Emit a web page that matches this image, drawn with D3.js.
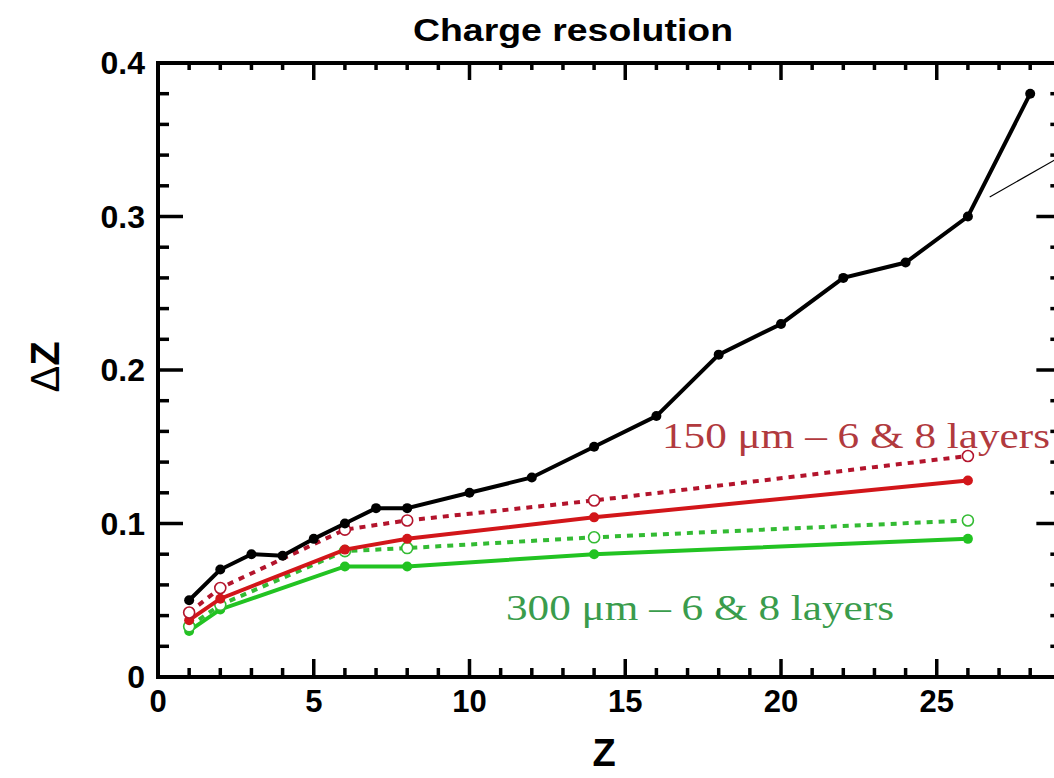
<!DOCTYPE html>
<html>
<head>
<meta charset="utf-8">
<script src="https://cdn.jsdelivr.net/npm/d3@7"></script>
<style>
  body { margin: 0; background: #fff; }
  svg { display: block; }
</style>
</head>
<body>
<div id="chart"></div>
<script>
// data
var zAll = [1, 2, 3, 4, 5, 6, 7, 8, 10, 12, 14, 16, 18, 20, 22, 24, 26, 28];
var dzAll = [0.050, 0.070, 0.080, 0.079, 0.090, 0.100, 0.110, 0.110, 0.120, 0.130, 0.150, 0.170, 0.210, 0.230, 0.260, 0.270, 0.300, 0.380];

var zSub = [1, 2, 6, 8, 14, 26];
var red8 = [0.042, 0.058, 0.096, 0.102, 0.115, 0.144];   // dotted, open
var red6 = [0.037, 0.051, 0.083, 0.090, 0.104, 0.128];   // solid, filled
var green8 = [0.033, 0.047, 0.082, 0.084, 0.091, 0.102];
var green6 = [0.030, 0.044, 0.072, 0.072, 0.080, 0.090];

var xTicks = [0, 5, 10, 15, 20, 25];
var yTicks = [0, 0.1, 0.2, 0.3, 0.4];
var yTickLabels = ["0", "0.1", "0.2", "0.3", "0.4"];

var title = "Charge resolution";
var redLabel = "150 \u03bcm \u2013 6 & 8 layers";
var greenLabel = "300 \u03bcm \u2013 6 & 8 layers";

function init() {
  var w = 1054;
  var h = 778;

  var x = d3.scaleLinear().domain([0, 29]).range([158, 158 + 29 * 31.15]);
  var y = d3.scaleLinear().domain([0, 0.4]).range([677, 63]);

  var svg = d3.select("#chart")
      .append("svg")
      .attr("width", w)
      .attr("height", h);

  // title
  svg.append("text")
      .attr("x", 413)
      .attr("y", 41)
      .attr("textLength", 320)
      .attr("lengthAdjust", "spacingAndGlyphs")
      .style("font-family", "Liberation Sans, Arial, sans-serif")
      .style("font-weight", "bold")
      .style("font-size", "31px")
      .text(title);

  var axisFont = "Liberation Sans, Arial, sans-serif";

  var xMinor = d3.range(1, 29, 1).filter(function(d) { return d % 5 != 0; });
  var yMinor = d3.range(1, 20, 1).filter(function(d) { return d % 5 != 0; })
      .map(function(d) { return d * 0.02; });

  var tickG = svg.append("g").attr("stroke", "#000").attr("stroke-width", 3.5);

  // vertical ticks (bottom and top), inward
  function xTickLines(vals, len, yBase, dir) {
    tickG.selectAll(null)
      .data(vals)
      .enter()
      .append("line")
      .attr("x1", function(d) { return x(d); })
      .attr("x2", function(d) { return x(d); })
      .attr("y1", yBase)
      .attr("y2", yBase + dir * len);
  }
  function yTickLines(vals, len, xBase, dir) {
    tickG.selectAll(null)
      .data(vals)
      .enter()
      .append("line")
      .attr("y1", function(d) { return y(d); })
      .attr("y2", function(d) { return y(d); })
      .attr("x1", xBase)
      .attr("x2", xBase + dir * len);
  }
  xTickLines(xMinor, 9, y(0), -1);
  xTickLines(xTicks, 18, y(0), -1);
  xTickLines(xMinor, 7, y(0.4), 1);
  xTickLines(xTicks, 17, y(0.4), 1);
  yTickLines(yMinor, 11, x(0), 1);
  yTickLines(yTicks, 25, x(0), 1);
  yTickLines(yMinor, 11, x(29), -1);
  yTickLines(yTicks, 25, x(29), -1);

  // frame
  svg.append("rect")
      .attr("x", x(0))
      .attr("y", y(0.4))
      .attr("width", x(29) - x(0))
      .attr("height", y(0) - y(0.4))
      .attr("fill", "none")
      .attr("stroke", "#000")
      .attr("stroke-width", 4);

  // tick labels
  svg.selectAll(".xlab")
    .data(xTicks)
    .enter()
    .append("text")
    .attr("x", function(d) { return x(d); })
    .attr("y", 712)
    .attr("text-anchor", "middle")
    .style("font-family", axisFont)
    .style("font-weight", "bold")
    .style("font-size", "31px")
    .text(function(d) { return d; });

  svg.selectAll(".ylab")
    .data(yTicks)
    .enter()
    .append("text")
    .attr("x", 145)
    .attr("y", function(d) { return y(d) + 11; })
    .attr("text-anchor", "end")
    .style("font-family", axisFont)
    .style("font-weight", "bold")
    .style("font-size", "32px")
    .text(function(d, i) { return yTickLabels[i]; });

  // axis titles
  svg.append("text")
      .attr("x", 604)
      .attr("y", 766)
      .attr("text-anchor", "middle")
      .style("font-family", axisFont)
      .style("font-weight", "bold")
      .style("font-size", "38px")
      .text("Z");

  var yt = svg.append("text")
      .attr("transform", "translate(59,367) rotate(-90)")
      .attr("text-anchor", "middle")
      .style("font-family", axisFont)
      .style("font-size", "40px");
  yt.append("tspan").style("font-weight", "normal").text("\u0394");
  yt.append("tspan").style("font-weight", "bold").text("Z");

  var line = d3.line()
      .x(function(d) { return x(d[0]); })
      .y(function(d) { return y(d[1]); });

  function series(xs, ys, color, dashed, open) {
    var pts = xs.map(function(v, i) { return [v, ys[i]]; });
    svg.append("path")
        .datum(pts)
        .attr("fill", "none")
        .attr("stroke", color)
        .attr("stroke-width", 4)
        .attr("stroke-dasharray", dashed ? "6,6" : null)
        .attr("d", line);
    svg.selectAll(null)
        .data(pts)
        .enter()
        .append("circle")
        .attr("cx", function(d) { return x(d[0]); })
        .attr("cy", function(d) { return y(d[1]); })
        .attr("r", open ? 5.5 : 5)
        .attr("fill", open ? "#fff" : color)
        .attr("stroke", color)
        .attr("stroke-width", open ? 1.6 : 0);
  }

  series(zSub, green6, "#22c322", false, false);
  series(zSub, green8, "#33bb33", true, true);
  series(zSub, red6, "#d2161a", false, false);
  series(zSub, red8, "#b3142c", true, true);
  series(zAll, dzAll, "#000", false, false);

  // callout line towards a label outside the frame
  svg.append("line")
      .attr("x1", x(26.7)).attr("y1", y(0.3127))
      .attr("x2", x(28.8)).attr("y2", y(0.337))
      .attr("stroke", "#000")
      .attr("stroke-width", 1.2);

  // series labels
  svg.append("text")
      .attr("x", 662)
      .attr("y", 448)
      .attr("textLength", 388)
      .attr("lengthAdjust", "spacingAndGlyphs")
      .style("font-family", "Liberation Serif, Times New Roman, serif")
      .style("font-size", "36px")
      .style("fill", "#b13a3e")
      .text(redLabel);

  svg.append("text")
      .attr("x", 506)
      .attr("y", 620)
      .attr("textLength", 388)
      .attr("lengthAdjust", "spacingAndGlyphs")
      .style("font-family", "Liberation Serif, Times New Roman, serif")
      .style("font-size", "36px")
      .style("fill", "#3a9c4c")
      .text(greenLabel);
}

window.onload = init;
</script>
</body>
</html>
